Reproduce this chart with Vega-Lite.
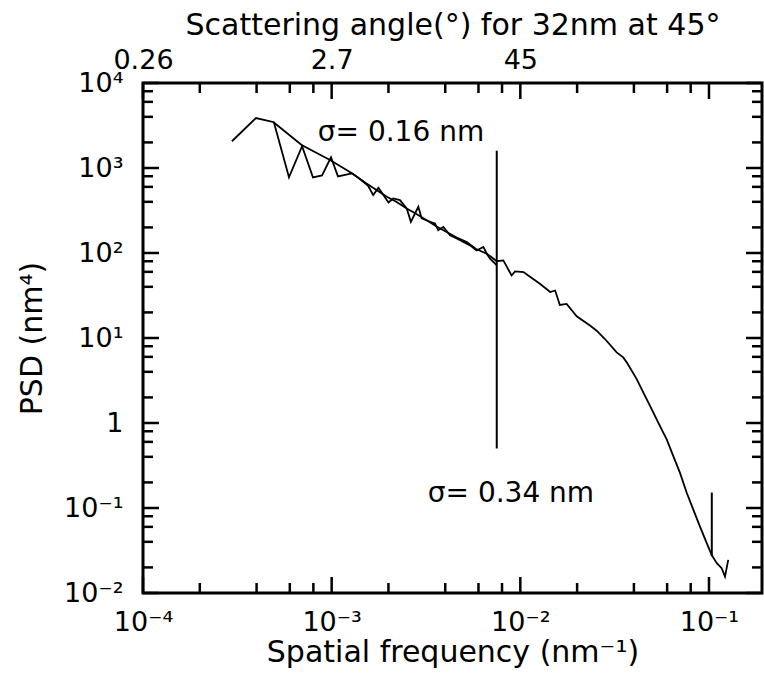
{
  "$schema": "https://vega.github.io/schema/vega-lite/v6.json",
  "width": 619,
  "height": 510,
  "autosize": {"type": "none"},
  "padding": {"left": 143, "top": 83, "right": 2, "bottom": 82},
  "background": "white",
  "config": {
    "view": {"stroke": "black", "strokeWidth": 3},
    "font": "DejaVu Sans",
    "axis": {
      "domain": false,
      "ticks": false,
      "tickSize": 0,
      "grid": false,
      "labelColor": "black",
      "titleColor": "black",
      "labelFont": "DejaVu Sans",
      "titleFont": "DejaVu Sans",
      "labelFontSize": 27,
      "titleFontSize": 30,
      "titleFontWeight": "normal",
      "labelFlush": false,
      "labelOverlap": false,
      "labelBound": false
    }
  },
  "datasets": {
    "psd": [
      {"f": 0.000296, "psd": 2065, "s": "low"},
      {"f": 0.000397, "psd": 3864, "s": "low"},
      {"f": 0.000494, "psd": 3463, "s": "low"},
      {"f": 0.000594, "psd": 776, "s": "low"},
      {"f": 0.000697, "psd": 1803, "s": "low"},
      {"f": 0.000796, "psd": 776, "s": "low"},
      {"f": 0.000889, "psd": 819, "s": "low"},
      {"f": 0.000992, "psd": 1337, "s": "low"},
      {"f": 0.00108, "psd": 797, "s": "low"},
      {"f": 0.00128, "psd": 865, "s": "low"},
      {"f": 0.00136, "psd": 791, "s": "low"},
      {"f": 0.00147, "psd": 690, "s": "low"},
      {"f": 0.00156, "psd": 619, "s": "low"},
      {"f": 0.00166, "psd": 480, "s": "low"},
      {"f": 0.00177, "psd": 586, "s": "low"},
      {"f": 0.00188, "psd": 480, "s": "low"},
      {"f": 0.002, "psd": 393, "s": "low"},
      {"f": 0.00212, "psd": 438, "s": "low"},
      {"f": 0.0023, "psd": 419, "s": "low"},
      {"f": 0.0025, "psd": 334, "s": "low"},
      {"f": 0.00263, "psd": 233, "s": "low"},
      {"f": 0.00288, "psd": 350, "s": "low"},
      {"f": 0.003, "psd": 255, "s": "low"},
      {"f": 0.00332, "psd": 233, "s": "low"},
      {"f": 0.00353, "psd": 222, "s": "low"},
      {"f": 0.00367, "psd": 185, "s": "low"},
      {"f": 0.00391, "psd": 203, "s": "low"},
      {"f": 0.00424, "psd": 162, "s": "low"},
      {"f": 0.0046, "psd": 148, "s": "low"},
      {"f": 0.00499, "psd": 135, "s": "low"},
      {"f": 0.00541, "psd": 123, "s": "low"},
      {"f": 0.00587, "psd": 107, "s": "low"},
      {"f": 0.00637, "psd": 118, "s": "low"},
      {"f": 0.00664, "psd": 98, "s": "low"},
      {"f": 0.00691, "psd": 85.7, "s": "low"},
      {"f": 0.0072, "psd": 78.4, "s": "low"},
      {"f": 0.0075, "psd": 71.4, "s": "low"},
      {"f": 0.000494, "psd": 3436, "s": "high"},
      {"f": 0.000693, "psd": 1868, "s": "high"},
      {"f": 0.00098, "psd": 1242, "s": "high"},
      {"f": 0.00128, "psd": 865, "s": "high"},
      {"f": 0.00153, "psd": 659, "s": "high"},
      {"f": 0.00196, "psd": 459, "s": "high"},
      {"f": 0.0022, "psd": 400, "s": "high"},
      {"f": 0.0025, "psd": 334, "s": "high"},
      {"f": 0.0028, "psd": 290, "s": "high"},
      {"f": 0.00319, "psd": 243, "s": "high"},
      {"f": 0.0036, "psd": 205, "s": "high"},
      {"f": 0.00407, "psd": 177, "s": "high"},
      {"f": 0.0046, "psd": 152, "s": "high"},
      {"f": 0.0052, "psd": 135, "s": "high"},
      {"f": 0.0058, "psd": 112, "s": "high"},
      {"f": 0.00664, "psd": 98, "s": "high"},
      {"f": 0.0071, "psd": 88, "s": "high"},
      {"f": 0.0075, "psd": 80, "s": "high"},
      {"f": 0.00813, "psd": 81.8, "s": "high"},
      {"f": 0.00899, "psd": 54.4, "s": "high"},
      {"f": 0.00937, "psd": 60.7, "s": "high"},
      {"f": 0.0104, "psd": 59.7, "s": "high"},
      {"f": 0.0115, "psd": 50.7, "s": "high"},
      {"f": 0.0127, "psd": 43.4, "s": "high"},
      {"f": 0.0144, "psd": 34.7, "s": "high"},
      {"f": 0.0153, "psd": 36.2, "s": "high"},
      {"f": 0.0162, "psd": 24.5, "s": "high"},
      {"f": 0.0176, "psd": 25.2, "s": "high"},
      {"f": 0.0199, "psd": 18.0, "s": "high"},
      {"f": 0.0234, "psd": 14.0, "s": "high"},
      {"f": 0.0254, "psd": 12.2, "s": "high"},
      {"f": 0.0281, "psd": 9.73, "s": "high"},
      {"f": 0.0324, "psd": 6.78, "s": "high"},
      {"f": 0.0351, "psd": 5.92, "s": "high"},
      {"f": 0.0367, "psd": 5.16, "s": "high"},
      {"f": 0.0414, "psd": 3.28, "s": "high"},
      {"f": 0.0449, "psd": 2.28, "s": "high"},
      {"f": 0.0487, "psd": 1.59, "s": "high"},
      {"f": 0.055, "psd": 0.921, "s": "high"},
      {"f": 0.0597, "psd": 0.641, "s": "high"},
      {"f": 0.0647, "psd": 0.407, "s": "high"},
      {"f": 0.0702, "psd": 0.259, "s": "high"},
      {"f": 0.0762, "psd": 0.151, "s": "high"},
      {"f": 0.0826, "psd": 0.0955, "s": "high"},
      {"f": 0.0895, "psd": 0.0607, "s": "high"},
      {"f": 0.0973, "psd": 0.0386, "s": "high"},
      {"f": 0.1033, "psd": 0.0281, "s": "high"},
      {"f": 0.11, "psd": 0.0224, "s": "high"},
      {"f": 0.1167, "psd": 0.0196, "s": "high"},
      {"f": 0.1216, "psd": 0.0156, "s": "high"},
      {"f": 0.1265, "psd": 0.0245, "s": "high"}
    ],
    "marks": [
      {"f": 0.0075, "lo": 0.5, "hi": 1600},
      {"f": 0.1035, "lo": 0.027, "hi": 0.152}
    ],
    "notes": [
      {"f": 0.00233, "psd": 2080, "label": "σ= 0.16 nm"},
      {"f": 0.00892, "psd": 0.118, "label": "σ= 0.34 nm"}
    ],
    "xticks": [
      {"v": 0.0001, "kind": "major"}, {"v": 0.0002, "kind": "minor"}, {"v": 0.0004, "kind": "minor"}, {"v": 0.0006, "kind": "minor"}, {"v": 0.0008, "kind": "minor"},
      {"v": 0.001, "kind": "major"}, {"v": 0.002, "kind": "minor"}, {"v": 0.004, "kind": "minor"}, {"v": 0.006, "kind": "minor"}, {"v": 0.008, "kind": "minor"},
      {"v": 0.01, "kind": "major"}, {"v": 0.02, "kind": "minor"}, {"v": 0.04, "kind": "minor"}, {"v": 0.06, "kind": "minor"}, {"v": 0.08, "kind": "minor"},
      {"v": 0.1, "kind": "major"}
    ],
    "yticks": [
      {"v": 0.01, "kind": "major"}, {"v": 0.02, "kind": "minor"}, {"v": 0.04, "kind": "minor"}, {"v": 0.06, "kind": "minor"}, {"v": 0.08, "kind": "minor"},
      {"v": 0.1, "kind": "major"}, {"v": 0.2, "kind": "minor"}, {"v": 0.4, "kind": "minor"}, {"v": 0.6, "kind": "minor"}, {"v": 0.8, "kind": "minor"},
      {"v": 1, "kind": "major"}, {"v": 2, "kind": "minor"}, {"v": 4, "kind": "minor"}, {"v": 6, "kind": "minor"}, {"v": 8, "kind": "minor"},
      {"v": 10, "kind": "major"}, {"v": 20, "kind": "minor"}, {"v": 40, "kind": "minor"}, {"v": 60, "kind": "minor"}, {"v": 80, "kind": "minor"},
      {"v": 100, "kind": "major"}, {"v": 200, "kind": "minor"}, {"v": 400, "kind": "minor"}, {"v": 600, "kind": "minor"}, {"v": 800, "kind": "minor"},
      {"v": 1000, "kind": "major"}, {"v": 2000, "kind": "minor"}, {"v": 4000, "kind": "minor"}, {"v": 6000, "kind": "minor"}, {"v": 8000, "kind": "minor"},
      {"v": 10000, "kind": "major"}
    ]
  },
  "layer": [
    {
      "data": {"name": "psd"},
      "mark": {"type": "line", "color": "black", "strokeWidth": 1.8, "clip": true},
      "encoding": {
        "x": {
          "field": "f", "type": "quantitative",
          "scale": {"type": "log", "domain": [0.0001, 0.191], "nice": false},
          "axis": {
            "orient": "bottom",
            "title": "Spatial frequency (nm⁻¹)",
            "values": [0.0001, 0.001, 0.01, 0.1],
            "labelExpr": "datum.value == 0.0001 ? '10⁻⁴' : datum.value == 0.001 ? '10⁻³' : datum.value == 0.01 ? '10⁻²' : '10⁻¹'",
            "labelPadding": 16,
            "titlePadding": 2
          }
        },
        "y": {
          "field": "psd", "type": "quantitative",
          "scale": {"type": "log", "domain": [0.01, 10000], "nice": false},
          "axis": {
            "orient": "left",
            "title": "PSD (nm⁴)",
            "values": [0.01, 0.1, 1, 10, 100, 1000, 10000],
            "labelExpr": "datum.value == 0.01 ? '10⁻²' : datum.value == 0.1 ? '10⁻¹' : datum.value == 1 ? '1' : datum.value == 10 ? '10¹' : datum.value == 100 ? '10²' : datum.value == 1000 ? '10³' : '10⁴'",
            "labelPadding": 20,
            "titlePadding": 16
          }
        },
        "detail": {"field": "s", "type": "nominal"}
      }
    },
    {
      "data": {"name": "marks"},
      "mark": {"type": "rule", "color": "black", "strokeWidth": 2},
      "encoding": {
        "x": {
          "field": "f", "type": "quantitative",
          "scale": {"type": "log", "domain": [0.0001, 0.191], "nice": false},
          "axis": {
            "orient": "top",
            "title": "Scattering angle(°) for 32nm at 45°",
            "values": [0.0001, 0.001, 0.01],
            "labelExpr": "datum.value == 0.0001 ? '0.26' : datum.value == 0.001 ? '2.7' : '45'",
            "labelPadding": 9,
            "titlePadding": 6
          }
        },
        "y": {
          "field": "lo", "type": "quantitative",
          "scale": {"type": "log", "domain": [0.01, 10000], "nice": false},
          "axis": null
        },
        "y2": {"field": "hi"}
      }
    },
    {
      "data": {"name": "notes"},
      "mark": {"type": "text", "color": "black", "font": "DejaVu Sans", "fontSize": 28, "align": "center", "baseline": "alphabetic"},
      "encoding": {
        "x": {"field": "f", "type": "quantitative", "scale": {"type": "log", "domain": [0.0001, 0.191], "nice": false}, "axis": null},
        "y": {"field": "psd", "type": "quantitative", "scale": {"type": "log", "domain": [0.01, 10000], "nice": false}, "axis": null},
        "text": {"field": "label", "type": "nominal"}
      }
    },
    {
      "data": {"name": "xticks"},
      "transform": [{"filter": "datum.kind == 'major'"}],
      "mark": {"type": "rule", "color": "black", "strokeWidth": 2.5, "y2Offset": -16},
      "encoding": {
        "x": {"field": "v", "type": "quantitative", "scale": {"type": "log", "domain": [0.0001, 0.191], "nice": false}, "axis": null},
        "y": {"datum": 0.01, "type": "quantitative", "scale": {"type": "log", "domain": [0.01, 10000], "nice": false}, "axis": null},
        "y2": {"datum": 0.01}
      }
    },
    {
      "data": {"name": "xticks"},
      "transform": [{"filter": "datum.kind == 'minor'"}],
      "mark": {"type": "rule", "color": "black", "strokeWidth": 2.5, "y2Offset": -10},
      "encoding": {
        "x": {"field": "v", "type": "quantitative", "scale": {"type": "log", "domain": [0.0001, 0.191], "nice": false}, "axis": null},
        "y": {"datum": 0.01, "type": "quantitative", "scale": {"type": "log", "domain": [0.01, 10000], "nice": false}, "axis": null},
        "y2": {"datum": 0.01}
      }
    },
    {
      "data": {"name": "xticks"},
      "transform": [{"filter": "datum.kind == 'major'"}],
      "mark": {"type": "rule", "color": "black", "strokeWidth": 2.5, "y2Offset": 16},
      "encoding": {
        "x": {"field": "v", "type": "quantitative", "scale": {"type": "log", "domain": [0.0001, 0.191], "nice": false}, "axis": null},
        "y": {"datum": 10000, "type": "quantitative", "scale": {"type": "log", "domain": [0.01, 10000], "nice": false}, "axis": null},
        "y2": {"datum": 10000}
      }
    },
    {
      "data": {"name": "xticks"},
      "transform": [{"filter": "datum.kind == 'minor'"}],
      "mark": {"type": "rule", "color": "black", "strokeWidth": 2.5, "y2Offset": 10},
      "encoding": {
        "x": {"field": "v", "type": "quantitative", "scale": {"type": "log", "domain": [0.0001, 0.191], "nice": false}, "axis": null},
        "y": {"datum": 10000, "type": "quantitative", "scale": {"type": "log", "domain": [0.01, 10000], "nice": false}, "axis": null},
        "y2": {"datum": 10000}
      }
    },
    {
      "data": {"name": "yticks"},
      "transform": [{"filter": "datum.kind == 'major'"}],
      "mark": {"type": "rule", "color": "black", "strokeWidth": 2.5, "x2Offset": 16},
      "encoding": {
        "y": {"field": "v", "type": "quantitative", "scale": {"type": "log", "domain": [0.01, 10000], "nice": false}, "axis": null},
        "x": {"datum": 0.0001, "type": "quantitative", "scale": {"type": "log", "domain": [0.0001, 0.191], "nice": false}, "axis": null},
        "x2": {"datum": 0.0001}
      }
    },
    {
      "data": {"name": "yticks"},
      "transform": [{"filter": "datum.kind == 'minor'"}],
      "mark": {"type": "rule", "color": "black", "strokeWidth": 2.5, "x2Offset": 10},
      "encoding": {
        "y": {"field": "v", "type": "quantitative", "scale": {"type": "log", "domain": [0.01, 10000], "nice": false}, "axis": null},
        "x": {"datum": 0.0001, "type": "quantitative", "scale": {"type": "log", "domain": [0.0001, 0.191], "nice": false}, "axis": null},
        "x2": {"datum": 0.0001}
      }
    },
    {
      "data": {"name": "yticks"},
      "transform": [{"filter": "datum.kind == 'major'"}],
      "mark": {"type": "rule", "color": "black", "strokeWidth": 2.5, "x2Offset": -16},
      "encoding": {
        "y": {"field": "v", "type": "quantitative", "scale": {"type": "log", "domain": [0.01, 10000], "nice": false}, "axis": null},
        "x": {"datum": 0.191, "type": "quantitative", "scale": {"type": "log", "domain": [0.0001, 0.191], "nice": false}, "axis": null},
        "x2": {"datum": 0.191}
      }
    },
    {
      "data": {"name": "yticks"},
      "transform": [{"filter": "datum.kind == 'minor'"}],
      "mark": {"type": "rule", "color": "black", "strokeWidth": 2.5, "x2Offset": -10},
      "encoding": {
        "y": {"field": "v", "type": "quantitative", "scale": {"type": "log", "domain": [0.01, 10000], "nice": false}, "axis": null},
        "x": {"datum": 0.191, "type": "quantitative", "scale": {"type": "log", "domain": [0.0001, 0.191], "nice": false}, "axis": null},
        "x2": {"datum": 0.191}
      }
    }
  ],
  "resolve": {"axis": {"x": "independent", "y": "independent"}}
}
